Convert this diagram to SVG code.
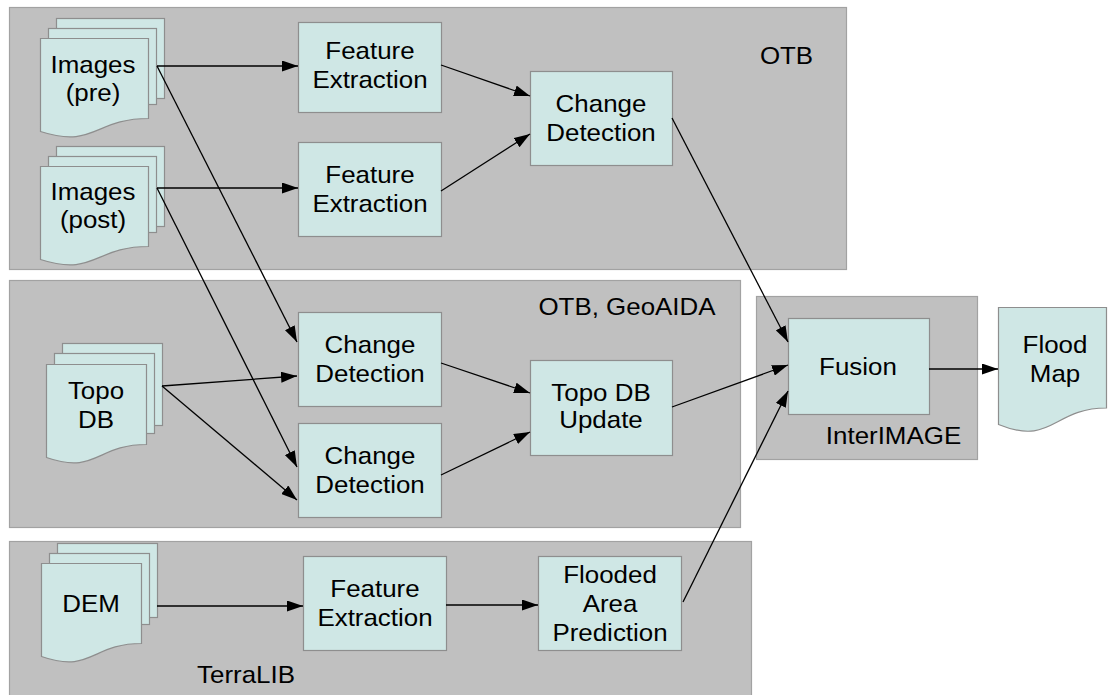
<svg xmlns="http://www.w3.org/2000/svg" width="1110" height="695" viewBox="0 0 1110 695">
  <defs>
    <style>
      .panel { fill: #c0c0c0; stroke: #a2a2a2; stroke-width: 1.2; }
      .node { fill: #cfe7e5; stroke: #8e8e8e; stroke-width: 1.2; }
      .t { font-family: "Liberation Sans", Arial, sans-serif; font-size: 24px; fill: #000; text-anchor: middle; }
      .edge { fill: none; stroke: #000; stroke-width: 1.3; marker-end: url(#arrow); }
    </style>
    <marker id="arrow" viewBox="0 0 16 11" refX="16" refY="5.5" markerUnits="userSpaceOnUse" markerWidth="16" markerHeight="11" orient="auto">
      <path d="M0,0 L16,5.5 L0,11 Z" fill="#000"/>
    </marker>
  </defs>

  <!-- tool panels -->
  <g id="panel-otb">
    <rect class="panel" x="9.5" y="7.5" width="837" height="262"/>
    <text class="t" transform="translate(786.5 64) scale(1.08 1)">OTB</text>
  </g>
  <g id="panel-otb-geoaida">
    <rect class="panel" x="9.5" y="280.5" width="731" height="247"/>
    <text class="t" transform="translate(627 315) scale(1.08 1)">OTB, GeoAIDA</text>
  </g>
  <g id="panel-interimage">
    <rect class="panel" x="756.5" y="296.5" width="221" height="163"/>
    <text class="t" transform="translate(893.5 444) scale(1.08 1)">InterIMAGE</text>
  </g>
  <g id="panel-terralib">
    <rect class="panel" x="9.5" y="541.5" width="742" height="160"/>
    <text class="t" transform="translate(246 683) scale(1.08 1)">TerraLIB</text>
  </g>

  <!-- data sources (stacked documents) -->
  <g id="images-pre">
    <rect class="node" x="56.5" y="18.5" width="108" height="80"/>
    <rect class="node" x="48.5" y="28.5" width="108" height="76"/>
    <path class="node" d="M40.5,38.5 H148.5 V118.5 C94.5,118.5 94.5,149 40.5,131.5 Z"/>
    <text class="t" transform="translate(93 0) scale(1.08 1)"><tspan x="0" y="73">Images</tspan><tspan x="0" y="101">(pre)</tspan></text>
  </g>
  <g id="images-post">
    <rect class="node" x="56.5" y="146.5" width="108" height="80"/>
    <rect class="node" x="48.5" y="156.5" width="108" height="76"/>
    <path class="node" d="M40.5,166.5 H148.5 V246.5 C94.5,246.5 94.5,277 40.5,259.5 Z"/>
    <text class="t" transform="translate(93 0) scale(1.08 1)"><tspan x="0" y="200">Images</tspan><tspan x="0" y="228">(post)</tspan></text>
  </g>
  <g id="topo-db">
    <rect class="node" x="62.5" y="343.5" width="100" height="82"/>
    <rect class="node" x="54.5" y="353.5" width="100" height="80"/>
    <path class="node" d="M46.5,364.5 H146.5 V444.5 C96.5,444.5 96.5,475 46.5,457.5 Z"/>
    <text class="t" transform="translate(96 0) scale(1.08 1)"><tspan x="0" y="399">Topo</tspan><tspan x="0" y="428">DB</tspan></text>
  </g>
  <g id="dem">
    <rect class="node" x="57.5" y="543.5" width="100" height="74"/>
    <rect class="node" x="49.5" y="553.5" width="100" height="71"/>
    <path class="node" d="M41.5,563.5 H141.5 V643.5 C91.5,643.5 91.5,674 41.5,656.5 Z"/>
    <text class="t" transform="translate(91 612) scale(1.08 1)">DEM</text>
  </g>

  <!-- processing steps -->
  <g id="feature-extraction-pre">
    <rect class="node" x="298.5" y="22.5" width="143" height="90"/>
    <text class="t" transform="translate(370 0) scale(1.08 1)"><tspan x="0" y="59">Feature</tspan><tspan x="0" y="88">Extraction</tspan></text>
  </g>
  <g id="feature-extraction-post">
    <rect class="node" x="298.5" y="142.5" width="143" height="94"/>
    <text class="t" transform="translate(370 0) scale(1.08 1)"><tspan x="0" y="183">Feature</tspan><tspan x="0" y="212">Extraction</tspan></text>
  </g>
  <g id="change-detection-otb">
    <rect class="node" x="530.5" y="71.5" width="142" height="94"/>
    <text class="t" transform="translate(601 0) scale(1.08 1)"><tspan x="0" y="112">Change</tspan><tspan x="0" y="141">Detection</tspan></text>
  </g>
  <g id="change-detection-pre">
    <rect class="node" x="298.5" y="312.5" width="143" height="94"/>
    <text class="t" transform="translate(370 0) scale(1.08 1)"><tspan x="0" y="353">Change</tspan><tspan x="0" y="382">Detection</tspan></text>
  </g>
  <g id="change-detection-post">
    <rect class="node" x="298.5" y="423.5" width="143" height="94"/>
    <text class="t" transform="translate(370 0) scale(1.08 1)"><tspan x="0" y="464">Change</tspan><tspan x="0" y="493">Detection</tspan></text>
  </g>
  <g id="topo-db-update">
    <rect class="node" x="530.5" y="360.5" width="142" height="95"/>
    <text class="t" transform="translate(601 0) scale(1.08 1)"><tspan x="0" y="401">Topo DB</tspan><tspan x="0" y="428">Update</tspan></text>
  </g>
  <g id="fusion">
    <rect class="node" x="788.5" y="318.5" width="141" height="96"/>
    <text class="t" transform="translate(858 375) scale(1.08 1)">Fusion</text>
  </g>
  <g id="flood-map">
    <path class="node" d="M998.5,307.5 H1106.5 V408 C1052.5,408 1052.5,446.5 998.5,424.5 Z"/>
    <text class="t" transform="translate(1055 0) scale(1.08 1)"><tspan x="0" y="353">Flood</tspan><tspan x="0" y="382">Map</tspan></text>
  </g>
  <g id="feature-extraction-dem">
    <rect class="node" x="303.5" y="556.5" width="143" height="94"/>
    <text class="t" transform="translate(375 0) scale(1.08 1)"><tspan x="0" y="597">Feature</tspan><tspan x="0" y="626">Extraction</tspan></text>
  </g>
  <g id="flooded-area-prediction">
    <rect class="node" x="538.5" y="556.5" width="143" height="94"/>
    <text class="t" transform="translate(610 0) scale(1.08 1)"><tspan x="0" y="583">Flooded</tspan><tspan x="0" y="612">Area</tspan><tspan x="0" y="641">Prediction</tspan></text>
  </g>

  <!-- connectors -->
  <g id="connectors">
    <line class="edge" x1="157" y1="66" x2="298" y2="66"/>
    <line class="edge" x1="157" y1="66" x2="297" y2="342"/>
    <line class="edge" x1="157" y1="188" x2="298" y2="188"/>
    <line class="edge" x1="157" y1="188" x2="297" y2="467"/>
    <line class="edge" x1="162" y1="386" x2="297" y2="376"/>
    <line class="edge" x1="162" y1="386" x2="297" y2="500"/>
    <line class="edge" x1="441" y1="65" x2="530" y2="96"/>
    <line class="edge" x1="441" y1="191" x2="530" y2="134"/>
    <line class="edge" x1="672" y1="118" x2="788" y2="342"/>
    <line class="edge" x1="441" y1="363" x2="530" y2="393"/>
    <line class="edge" x1="441" y1="475" x2="530" y2="432"/>
    <line class="edge" x1="672" y1="407" x2="788" y2="365"/>
    <line class="edge" x1="683" y1="602" x2="788" y2="391"/>
    <line class="edge" x1="929" y1="369" x2="998" y2="369"/>
    <line class="edge" x1="157" y1="606" x2="303" y2="606"/>
    <line class="edge" x1="446" y1="605" x2="538" y2="605"/>
  </g>
</svg>
